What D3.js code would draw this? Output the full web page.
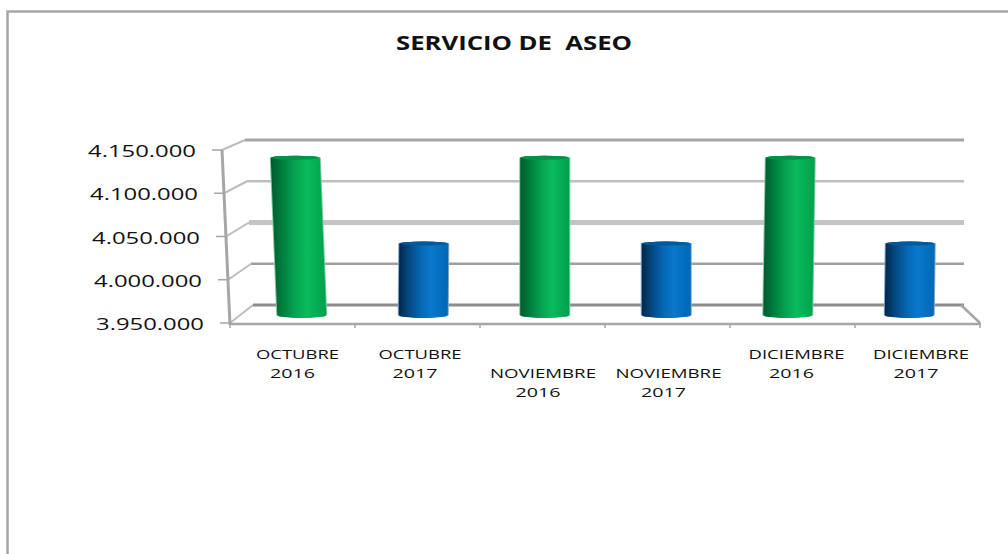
<!DOCTYPE html>
<html>
<head>
<meta charset="utf-8">
<script src="https://cdn.jsdelivr.net/npm/d3@7"></script>
<style>
  html, body { margin: 0; padding: 0; background: #fff; }
  svg { display: block; }
  text { font-family: "Open Sans", sans-serif; fill: #111; white-space: pre; }
</style>
</head>
<body>
<svg class="chart" width="1008" height="554"></svg>
<script>
const categories = ['OCTUBRE 2016', 'OCTUBRE 2017', 'NOVIEMBRE 2016', 'NOVIEMBRE 2017', 'DICIEMBRE 2016', 'DICIEMBRE 2017'];
const values = [4135000, 4034000, 4135000, 4034000, 4135000, 4034000];
const years = [2016, 2017, 2016, 2017, 2016, 2017];
const yTicks = [3950000, 4000000, 4050000, 4100000, 4150000];

const svg = d3.select('svg.chart');
const domain = [3950000, 4150000];
const fmt = d3.formatLocale({ decimal: ',', thousands: '.', grouping: [3], currency: ['', ''] }).format(',d');

// the fake 3d box: front edge, back wall, and the bars standing in between
const yFront = d3.scaleLinear().domain(domain).range([323, 150]);
const yBack = d3.scaleLinear().domain(domain).range([305, 140]);
const yBar = d3.scaleLinear().domain(domain).range([315, 145]);
const xAxisSlant = d3.scaleLinear().domain(domain).range([230, 222]);
const xFront = d3.scaleBand().domain(categories).range([230, 980]);
const xBack = d3.scaleBand().domain(categories).range([241, 970]);

const barWidth = 49;
const lean = [-6.5, 0.5, 0, 0, 2.5, 1]; // the bars are not quite upright in the picture
const labelShift = [5, 2.5, 0.5, 1, 4, 3.5]; // labels drift off their band centres

// outer frame
svg.append('path')
    .attr('d', 'M7.5,554 V11.5 H1008')
    .attr('fill', 'none').attr('stroke', '#a6a6a6').attr('stroke-width', 2.5);

// title
svg.append('text')
    .attr('x', 396).attr('y', 50)
    .attr('font-size', 19).attr('font-weight', 700)
    .attr('textLength', 236).attr('lengthAdjust', 'spacingAndGlyphs')
    .text('SERVICIO DE  ASEO');

// gridlines on the back wall
const gridColor = ['#8c8c8c', '#a0a0a0', '#c4c4c4', '#bfbfbf', '#a6a6a6'];
const gridWidth = [3, 2.5, 5, 2.5, 3];
yTicks.forEach((t, i) => {
    const x0 = xAxisSlant(t);
    svg.append('line')
        .attr('x1', x0).attr('y1', yFront(t))
        .attr('x2', x0 + 23).attr('y2', yBack(t))
        .attr('stroke', '#bdbdbd').attr('stroke-width', 2);
    svg.append('line')
        .attr('x1', x0 + 23).attr('x2', 964)
        .attr('y1', yBack(t)).attr('y2', yBack(t))
        .attr('stroke', gridColor[i])
        .attr('stroke-width', gridWidth[i]);
    svg.append('line')
        .attr('x1', x0 - 10).attr('x2', x0)
        .attr('y1', yFront(t)).attr('y2', yFront(t))
        .attr('stroke', '#a6a6a6').attr('stroke-width', 1.5);
    svg.append('text')
        .attr('x', x0 - 26)
        .attr('y', yFront(t) + 7)
        .attr('text-anchor', 'end')
        .attr('font-size', 15.5)
        .attr('textLength', 108).attr('lengthAdjust', 'spacingAndGlyphs')
        .text(fmt(t));
});

// left edge and floor
svg.append('line')
    .attr('x1', xAxisSlant(domain[1])).attr('y1', yFront(domain[1]))
    .attr('x2', xAxisSlant(domain[0])).attr('y2', yFront(domain[0]) + 2)
    .attr('stroke', '#a6a6a6').attr('stroke-width', 3);
svg.append('line')
    .attr('x1', 230).attr('x2', 981)
    .attr('y1', yFront(domain[0]) + 1).attr('y2', yFront(domain[0]) + 1)
    .attr('stroke', '#a6a6a6').attr('stroke-width', 2.5);
svg.append('line')
    .attr('x1', 961).attr('y1', yBack(domain[0]))
    .attr('x2', 980).attr('y2', yFront(domain[0]))
    .attr('stroke', '#a6a6a6').attr('stroke-width', 2.5);
d3.range(categories.length + 1).forEach(i => {
    const x = xFront.range()[0] + i * xFront.step();
    svg.append('line')
        .attr('x1', x).attr('x2', x)
        .attr('y1', yFront(domain[0])).attr('y2', yFront(domain[0]) + 5)
        .attr('stroke', '#a6a6a6').attr('stroke-width', 1.5);
});

// cylinder shading
const defs = svg.append('defs');
function shade(id, stops) {
    const g = defs.append('linearGradient').attr('id', id);
    stops.forEach(s => g.append('stop').attr('offset', s[0]).attr('stop-color', s[1]));
}
shade('green', [[0, '#005a2c'], [0.2, '#007d3d'], [0.45, '#06a552'], [0.65, '#0abb5c'], [1, '#00a04d']]);
shade('blue', [[0, '#01284b'], [0.2, '#04477f'], [0.45, '#0668b4'], [0.65, '#0a78cc'], [1, '#0068b6']]);

const bars = svg.append('g').selectAll('g').data(categories).join('g');

// pale fringe round each bar
bars.append('path')
    .attr('d', (d, i) => barPath(i, 2))
    .attr('fill', (d, i) => years[i] === 2016 ? '#7fc9a2' : '#7fa9cc');
bars.append('path')
    .attr('d', (d, i) => barPath(i, 0))
    .attr('fill', (d, i) => years[i] === 2016 ? 'url(#green)' : 'url(#blue)');
bars.append('ellipse')
    .attr('cx', (d, i) => xBack(d) + xBack.bandwidth() / 2 + lean[i])
    .attr('cy', (d, i) => yBar(values[i]))
    .attr('rx', barWidth / 2 - 1).attr('ry', 2)
    .attr('fill', (d, i) => years[i] === 2016 ? '#009248' : '#02589c');

function barPath(i, grow) {
    const cx = xBack(categories[i]) + xBack.bandwidth() / 2;
    const top = yBar(values[i]);
    const bottom = yBar(domain[0]);
    const r = barWidth / 2 + grow / 2;
    return `M${cx + lean[i] - r},${top}` +
        `A${r},2 0 0 1 ${cx + lean[i] + r},${top}` +
        `L${cx + r},${bottom}` +
        `A${r},3 0 0 1 ${cx - r},${bottom}Z`;
}

// category labels, the two NOVIEMBRE ones sit a line lower
const labelWidth = { OCTUBRE: 83, NOVIEMBRE: 106, DICIEMBRE: 96 };
categories.forEach((c, i) => {
    const parts = c.split(' ');
    const cx = xFront(c) + xFront.bandwidth() / 2 + labelShift[i];
    const base = parts[0] === 'NOVIEMBRE' ? 378 : 359;
    svg.append('text')
        .attr('x', cx).attr('y', base)
        .attr('text-anchor', 'middle').attr('font-size', 13)
        .attr('textLength', labelWidth[parts[0]]).attr('lengthAdjust', 'spacingAndGlyphs')
        .text(parts[0]);
    svg.append('text')
        .attr('x', cx - 5).attr('y', base + 19)
        .attr('text-anchor', 'middle').attr('font-size', 13)
        .attr('textLength', 45).attr('lengthAdjust', 'spacingAndGlyphs')
        .text(parts[1]);
});
</script>
</body>
</html>
